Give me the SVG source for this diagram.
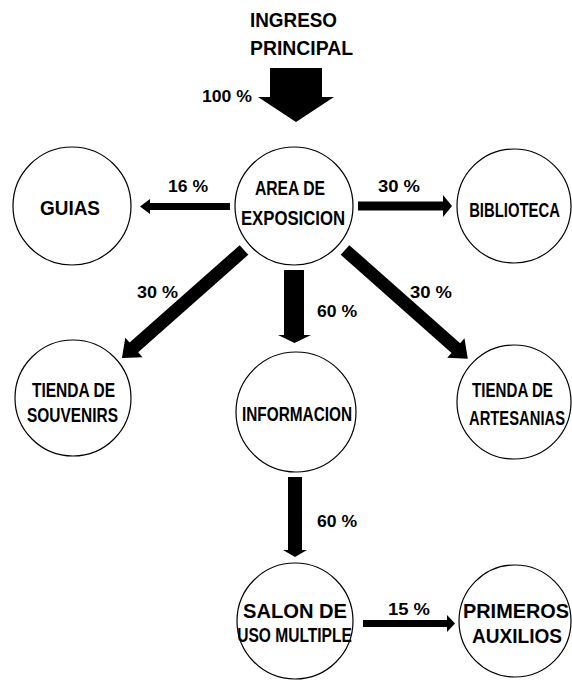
<svg xmlns="http://www.w3.org/2000/svg" width="572" height="681" viewBox="0 0 572 681">
<style>
.node circle{fill:#fff;stroke:#000;stroke-width:1.2}
text{font-family:"Liberation Sans",Arial,sans-serif;font-weight:bold;fill:#000}
.lbl{font-size:20px}
.c{text-anchor:middle}
.pct{font-size:16px}
.arr{fill:#000}
</style>
<rect width="572" height="681" fill="#fff"/>
<g id="ingreso">
<text class="lbl" x="250" y="27" textLength="87" lengthAdjust="spacingAndGlyphs">INGRESO</text>
<text class="lbl" x="250" y="55" textLength="103" lengthAdjust="spacingAndGlyphs">PRINCIPAL</text>
</g>
<g id="guias" class="node"><circle cx="72" cy="206" r="59"/><text class="lbl" x="40" y="215" textLength="60" lengthAdjust="spacingAndGlyphs">GUIAS</text></g>
<g id="area" class="node"><circle cx="294" cy="206" r="59"/>
<text class="lbl c" transform="translate(290,195) scale(0.78,1)" textLength="90" lengthAdjust="spacingAndGlyphs">AREA DE</text>
<text class="lbl c" transform="translate(293,225) scale(0.84,1)" textLength="124" lengthAdjust="spacingAndGlyphs">EXPOSICION</text></g>
<g id="biblioteca" class="node"><circle cx="514" cy="206" r="57"/>
<text class="lbl c" transform="translate(514.5,217) scale(0.75,1)" textLength="121" lengthAdjust="spacingAndGlyphs">BIBLIOTECA</text></g>
<g id="souvenirs" class="node"><circle cx="73" cy="398" r="58"/>
<text class="lbl c" transform="translate(73.5,397) scale(0.77,1)" textLength="108" lengthAdjust="spacingAndGlyphs">TIENDA DE</text>
<text class="lbl c" transform="translate(72.5,422) scale(0.77,1)" textLength="118" lengthAdjust="spacingAndGlyphs">SOUVENIRS</text></g>
<g id="informacion" class="node"><circle cx="296" cy="412" r="60"/>
<text class="lbl c" transform="translate(297,421) scale(0.77,1)" textLength="143" lengthAdjust="spacingAndGlyphs">INFORMACION</text></g>
<g id="artesanias" class="node"><circle cx="514" cy="402" r="57"/>
<text class="lbl c" transform="translate(512.5,397) scale(0.77,1)" textLength="105" lengthAdjust="spacingAndGlyphs">TIENDA DE</text>
<text class="lbl c" transform="translate(517,425) scale(0.75,1)" textLength="128" lengthAdjust="spacingAndGlyphs">ARTESANIAS</text></g>
<g id="salon" class="node"><circle cx="295" cy="621" r="58"/>
<text class="lbl" x="243" y="618" textLength="104" lengthAdjust="spacingAndGlyphs">SALON DE</text>
<text class="lbl c" transform="translate(294.5,642) scale(0.77,1)" textLength="149" lengthAdjust="spacingAndGlyphs">USO MULTIPLE</text></g>
<g id="primeros" class="node"><circle cx="515" cy="621" r="56"/>
<text class="lbl" x="463" y="618" textLength="106" lengthAdjust="spacingAndGlyphs">PRIMEROS</text>
<text class="lbl" x="472" y="643" textLength="90" lengthAdjust="spacingAndGlyphs">AUXILIOS</text></g>
<g id="connectors">
<path class="arr" d="M270,68 H322 V97 H334 L296,122 L258,97 H270 Z"/>
<text class="pct" x="202" y="102" textLength="50" lengthAdjust="spacingAndGlyphs">100 %</text>
<path class="arr" d="M230,203 H150 V199 L140,206.5 L150,214 V210 H230 Z"/>
<text class="pct" x="168" y="192" textLength="40" lengthAdjust="spacingAndGlyphs">16 %</text>
<path class="arr" d="M358,201.5 H443 V195 L452,206 L443,217 V210.5 H358 Z"/>
<text class="pct" x="378" y="192" textLength="42" lengthAdjust="spacingAndGlyphs">30 %</text>
<path class="arr" transform="translate(244,250) rotate(138.5)" d="M0,-6.5 H147 V-13 L163,0 L147,13 V6.5 H0 Z"/>
<text class="pct" x="137" y="298" textLength="41" lengthAdjust="spacingAndGlyphs">30 %</text>
<path class="arr" transform="translate(345,250) rotate(41.5)" d="M0,-6.5 H148 V-13 L164,0 L148,13 V6.5 H0 Z"/>
<text class="pct" x="410" y="298" textLength="42" lengthAdjust="spacingAndGlyphs">30 %</text>
<path class="arr" d="M284,270 H304 V335 H311 L294.5,343 L278,335 H284 Z"/>
<text class="pct" x="317" y="317" textLength="40" lengthAdjust="spacingAndGlyphs">60 %</text>
<path class="arr" d="M288,477 H302 V550 H307 L295,557 L283,550 H288 Z"/>
<text class="pct" x="317" y="527" textLength="40" lengthAdjust="spacingAndGlyphs">60 %</text>
<path class="arr" d="M363,620 H447 V615 L455,623.5 L447,632 V627 H363 Z"/>
<text class="pct" x="388" y="615" textLength="42" lengthAdjust="spacingAndGlyphs">15 %</text>
</g>
</svg>
